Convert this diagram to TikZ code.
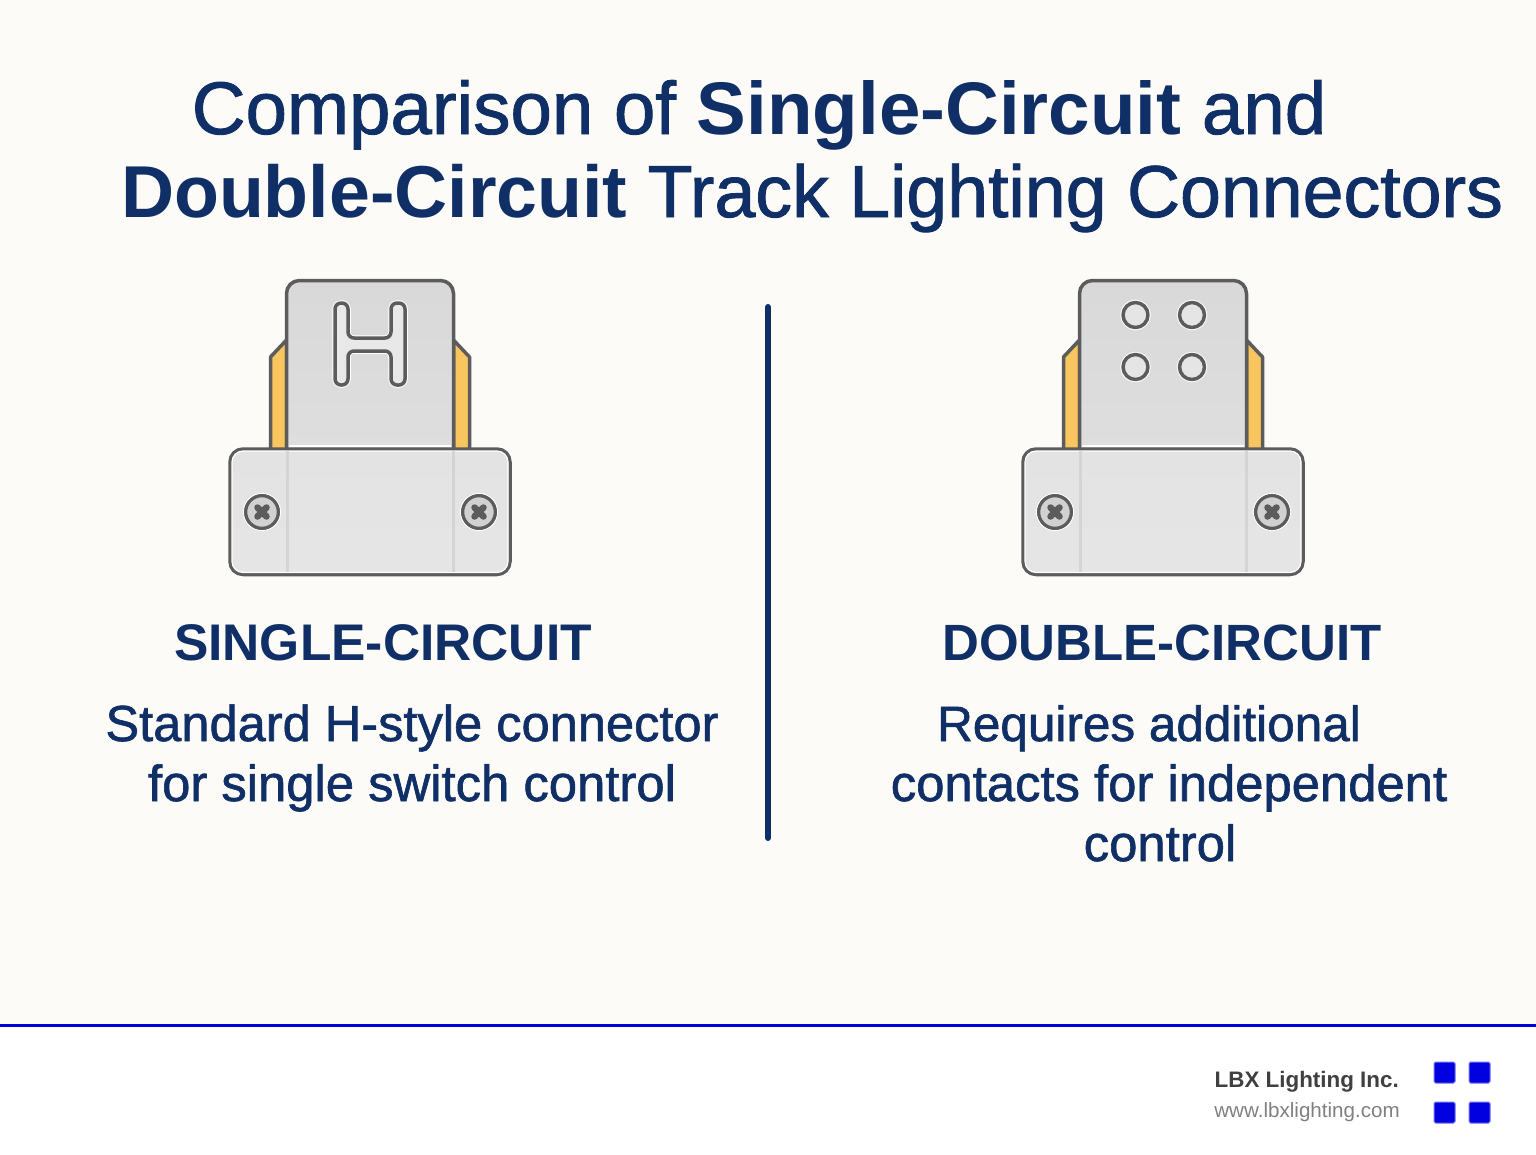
\documentclass[tikz,border=0pt]{standalone}
\usepackage{fontspec}
\usepackage{xcolor}
\usetikzlibrary{positioning}
\setmainfont{Liberation Sans}
\newfontfamily\medfont[FakeBold=1.2]{Liberation Sans}
\definecolor{navy}{HTML}{0F2F66}
\definecolor{paper}{HTML}{FCFBF7}
\definecolor{steel}{HTML}{5C5C5C}
\definecolor{brass}{HTML}{F9C55F}
\definecolor{logoblue}{HTML}{0000E0}
\newcommand{\fsize}[1]{\fontsize{#1}{#1}\selectfont}
\tikzset{
	outline/.style={draw=steel, line width=3.5pt, line join=round},
	halo/.style={preaction={draw=white, line width=5.5pt}},
	plate/.style 2 args={outline, top color=black!#1, bottom color=black!#2, rounded corners=13pt},
	seam/.style={draw=black!17, line width=3pt},
	glint/.style={draw=white, line width=1.2pt},
	txt/.style={anchor=base, inner sep=0pt, text=navy},
	pics/connector/.style={code={
		\draw[outline, fill=brass] (270.5,448) -- (270.5,357) -- (286.5,340) -- (286.5,448);
		\draw[outline, fill=brass] (469.5,448) -- (469.5,357) -- (453.5,340) -- (453.5,448);
		\draw[plate={15}{13}] (286.5,448) -- (286.5,280.5) -- (453.5,280.5) -- (453.5,448);
		\draw[glint] (289,446) -- (451,446);
		\draw[plate={11}{10}] (230,449) rectangle (510,574.5);
		\draw[glint, rounded corners=11pt] (232,451) rectangle (508,572.5);
		\draw[seam] (287,451) -- (287,572);
		\draw[seam] (453,451) -- (453,572);
		\foreach \sx in {262,479} {
			\draw[outline, fill=black!18] (\sx,512) circle (16.5);
			\draw[draw=white, line width=.8pt] (\sx,512) circle (18.6);
			\draw[steel, line width=6.5pt, line cap=round] (\sx-4.5,507.5) -- (\sx+4.5,516.5);
			\draw[steel, line width=6.5pt, line cap=round] (\sx-4.5,516.5) -- (\sx+4.5,507.5);
		}
	}}
}
\begin{document}
\begin{tikzpicture}[x=1pt, y=-1pt]
	\useasboundingbox (0,0) rectangle (1536,1154);
	\fill[paper] (0,0) rectangle (1536,1025);
	\fill[white] (0,1025) rectangle (1536,1154);
	\draw[logoblue, line width=3pt] (0,1025) -- (1536,1025);

	\node[txt, font=\fsize{74.5}] (titleone) at (759,134) {\medfont Comparison of {\rmfamily\bfseries Single-Circuit} and};
	\node[txt, font=\fsize{73.5}] (titletwo) at (812,217) {{\bfseries Double-Circuit} \medfont Track Lighting Connectors};

	\pic {connector};
	\begin{scope}[xshift=793pt]
		\pic {connector};
	\end{scope}

	% H slot
	\draw[outline, halo, fill=black!9, rounded corners=6pt] (348,303) -- (348,338) -- (391,338) -- (391,303) -- (405,303) -- (405,385) -- (391,385) -- (391,351) -- (348,351) -- (348,385) -- (335,385) -- (335,303) -- cycle;

	% contacts
	\foreach \hx in {1135.5,1192} {
		\foreach \hy in {315,367} {
			\draw[outline, halo, fill=black!10] (\hx,\hy) circle (12.5);
		}
	}

	\draw[navy, line width=6pt, line cap=round] (768,307) -- (768,838);

	\node[txt, font=\fsize{51.5}\bfseries] (singlehead) at (383,660) {SINGLE-CIRCUIT};
	\node[txt, font=\fsize{50.6}\medfont] (singleone) at (412,741) {Standard H-style connector};
	\node[txt, font=\fsize{50.8}\medfont] (singletwo) at (412,801) {for single switch control};

	\node[txt, font=\fsize{51}\bfseries] (doublehead) at (1162,660) {DOUBLE-CIRCUIT};
	\node[txt, font=\fsize{49.5}\medfont] (doubleone) at (1149,741) {Requires additional};
	\node[txt, font=\fsize{50.8}\medfont] (doubletwo) at (1169,801) {contacts for independent};
	\node[txt, font=\fsize{50.8}\medfont] (doublethree) at (1160,861) {control};

	\node[txt, anchor=base east, text=black!75, font=\fsize{22.4}\bfseries] (company) at (1399,1087) {LBX Lighting Inc.};
	\node[txt, anchor=base east, text=black!50, font=\fsize{20.6}] (website) at (1400,1117) {www.lbxlighting.com};

	\foreach \lx in {1434,1469} {
		\foreach \ly in {1062,1102} {
			\draw[logoblue!55, fill=logoblue, line width=1pt, rounded corners=1.5pt] (\lx,\ly) rectangle ++(21,21);
		}
	}
\end{tikzpicture}
\end{document}
